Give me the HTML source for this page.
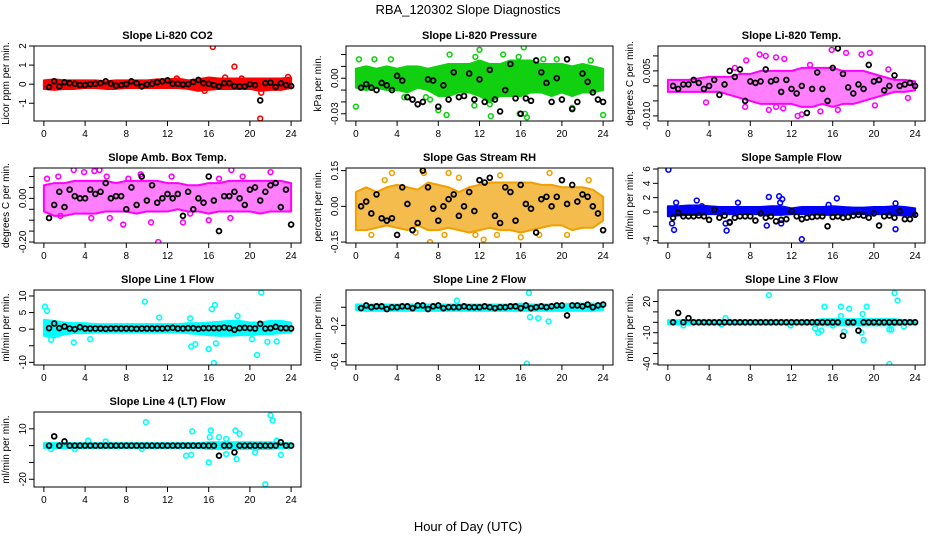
<!DOCTYPE html>
<html><head><meta charset="utf-8"><style>
html,body{margin:0;padding:0;background:#fff;}
svg{display:block;font-family:"Liberation Sans",Arial,sans-serif;}
</style></head><body>
<svg id="chart" width="936" height="540" viewBox="0 0 936 540">
<text x="468" y="14" text-anchor="middle" font-size="13">RBA_120302  Slope Diagnostics</text>
<text x="468" y="531" text-anchor="middle" font-size="13">Hour of Day (UTC)</text>
</svg>
<script>
// ---------- data ----------
const xTicks = [0,4,8,12,16,20,24];

const co2Hi = [0.2,0.25,0.2,0.2,0.2,0.2,0.15,0.2,0.2,0.2,0.2,0.25,0.25,0.3,0.2,0.25,0.35,0.3,0.3,0.3,0.3,0.3,0.3,0.3,0.35];
const co2Lo = [-0.25,-0.3,-0.25,-0.25,-0.2,-0.2,-0.25,-0.25,-0.2,-0.2,-0.2,-0.2,-0.2,-0.2,-0.25,-0.35,-0.3,-0.25,-0.25,-0.25,-0.25,-0.35,-0.3,-0.3,-0.2];
const co2OutH = [16.4,18.5,21.0,21.1,12.9,17.6,23.7,15.6,19.2];
const co2OutV = [1.95,0.92,-1.8,-0.45,0.3,0.35,0.38,-0.35,0.3];
const co2Black = [-0.15,0.15,-0.12,0.1,0.05,0.02,-0.05,-0.05,0,0.02,0.05,0.15,0.03,-0.08,-0.05,0,0.15,0.05,-0.12,-0.02,0.02,0.1,0.15,0.2,0.02,0.02,-0.02,0,0.12,0.22,0.05,0.02,-0.05,-0.12,0.05,0.05,-0.1,-0.12,-0.12,0,-0.05,-0.85,0.05,0.08,-0.15,0.05,-0.05,-0.1];

const presHi = [0.008,0.01,0.008,0.01,0.008,0.01,0.01,0.008,0.01,0.012,0.012,0.012,0.015,0.012,0.012,0.015,0.015,0.015,0.012,0.012,0.012,0.01,0.012,0.01,0.008];
const presLo = [-0.008,-0.01,-0.008,-0.01,-0.01,-0.012,-0.008,-0.01,-0.015,-0.015,-0.012,-0.012,-0.015,-0.02,-0.015,-0.015,-0.015,-0.012,-0.012,-0.015,-0.012,-0.015,-0.012,-0.012,-0.01];
const presOutH = [0,0.3,1.8,3.4,6.8,8.0,8.8,9.1,11.6,11.5,12.0,13.1,13.0,14.3,15.8,16.3,16.6,16.4,15.9,22.8,24,21.0,7.2,4.7,18.2,19.5];
const presOutV = [-0.024,0.016,0.016,0.016,-0.016,-0.027,-0.031,0.02,0.018,-0.023,0.024,-0.032,-0.022,0.02,0.018,0.026,-0.033,-0.03,-0.03,0.015,-0.031,-0.025,-0.018,-0.016,0.016,0.016];
const presBlack = [-0.008,-0.005,-0.008,-0.01,-0.004,-0.006,-0.01,0.002,-0.002,-0.016,-0.018,-0.022,-0.02,-0.001,-0.002,-0.024,-0.006,-0.018,0.005,-0.016,-0.015,0.004,-0.018,-0.001,-0.02,0.007,-0.018,-0.028,-0.01,0.012,-0.017,-0.03,-0.017,-0.019,0.015,0.005,-0.004,-0.02,0.0,-0.018,0.016,-0.026,-0.02,0.004,-0.003,-0.012,-0.018,-0.02];

const tempHi = [0.002,0.002,0.002,0.0025,0.003,0.003,0.003,0.004,0.004,0.005,0.005,0.005,0.005,0.006,0.006,0.006,0.006,0.005,0.005,0.005,0.004,0.003,0.002,0.002,0.0015];
const tempLo = [-0.002,-0.002,-0.002,-0.002,-0.002,-0.002,-0.003,-0.004,-0.005,-0.006,-0.006,-0.006,-0.006,-0.007,-0.007,-0.006,-0.007,-0.006,-0.006,-0.005,-0.004,-0.003,-0.002,-0.002,-0.0015];
const tempOutH = [7.6,8.9,9.5,10.5,11.3,15.9,17.3,18.8,19.6,13.0,12.6,18.5,14.8,16.5,20.1,7.5,11.2,3.7,23.3,21.4,9.8,10.5,6.5,13.8];
const tempOutV = [0.0085,0.0105,0.01,0.0095,0.009,0.012,0.011,0.0105,0.011,-0.0095,-0.01,-0.013,-0.0085,-0.008,-0.0065,-0.007,-0.0075,-0.0055,-0.004,0.0055,-0.008,-0.007,0.006,0.007];
const tempBlack = [0,-0.001,0.0005,0.0005,0.002,0.001,-0.001,0,0.002,-0.003,0.0005,0.005,0.003,0.0055,-0.005,0.0015,0.001,0.0015,0.0055,0.0015,0.002,-0.002,0.002,-0.001,-0.0025,0,-0.009,-0.001,0.0045,-0.001,-0.005,0.006,0.0125,0.004,-0.0005,-0.0025,0.0005,-0.001,0.007,0.0015,0.002,-0.0015,0,0.0035,0,0.0005,0.001,0.0];

const ambHi = [0.06,0.07,0.07,0.08,0.08,0.08,0.08,0.07,0.08,0.08,0.08,0.08,0.07,0.07,0.06,0.06,0.07,0.07,0.08,0.08,0.08,0.08,0.08,0.08,0.07];
const ambLo = [-0.06,-0.08,-0.08,-0.07,-0.07,-0.07,-0.06,-0.06,-0.06,-0.07,-0.06,-0.06,-0.06,-0.05,-0.06,-0.06,-0.07,-0.06,-0.06,-0.06,-0.06,-0.07,-0.06,-0.06,-0.06];
const ambOutH = [0.3,1.4,2.9,3.9,4.9,5.4,6.1,7.7,11.1,13.5,18.2,19.3,22.0,4.6,6.4,9.4,10.4,17.0,16.0,18.1,1.6,14.2,8.2,12.4];
const ambOutV = [0.09,0.1,0.13,0.12,0.125,0.13,0.1,-0.12,-0.2,-0.11,0.13,0.1,0.12,-0.09,-0.09,0.11,-0.11,0.09,-0.1,-0.09,-0.08,-0.07,0.09,0.1];
const ambBlack = [-0.09,-0.03,0.03,-0.04,0.04,0.01,0.0,0.0,0.04,0.02,0.03,0.07,0.0,0.01,0.01,-0.05,0.05,-0.03,0.1,-0.01,0.06,-0.02,0.0,0.02,0.0,0.02,-0.08,0.03,-0.05,0.0,-0.02,0.1,-0.01,-0.15,0.01,0.01,0.03,0.0,-0.03,0.04,0.05,-0.01,0.03,0.06,0.07,-0.04,0.04,-0.12];

const rhHi = [0.06,0.08,0.06,0.08,0.09,0.08,0.07,0.1,0.09,0.08,0.06,0.08,0.09,0.1,0.1,0.1,0.1,0.1,0.09,0.09,0.08,0.08,0.08,0.07,0.04];
const rhLo = [-0.1,-0.1,-0.09,-0.08,-0.09,-0.1,-0.08,-0.1,-0.1,-0.09,-0.1,-0.11,-0.1,-0.09,-0.1,-0.1,-0.11,-0.1,-0.09,-0.08,-0.08,-0.1,-0.09,-0.09,-0.06];
const rhOutH = [7.2,6.6,9.0,18.8,3.5,11.6,12.4,13.7,17.8,1.5,5.8,2.8,10.0,14.0,20.5,22.6,8.6,16.0];
const rhOutV = [-0.15,0.14,0.14,0.14,0.14,-0.12,-0.14,-0.12,-0.12,-0.12,-0.11,0.11,0.12,0.13,-0.12,0.11,-0.12,-0.13];
const rhBlack = [0.0,0.02,-0.03,0.05,-0.05,-0.06,-0.05,-0.12,0.08,0.01,-0.1,-0.07,0.15,0.08,-0.01,-0.06,0.0,0.03,0.05,-0.04,0.0,0.06,-0.02,0.11,0.1,0.12,-0.04,-0.07,0.08,0.06,-0.06,0.09,0.01,-0.01,-0.11,0.03,0.04,0.0,0.04,0.11,0.01,0.09,0.02,0.05,0.04,0.0,-0.03,-0.1];

const sampHi = [0.8,0.8,0.9,0.9,0.8,0.7,0.7,0.7,0.7,0.7,0.8,0.8,0.5,0.7,0.7,0.7,0.8,0.7,0.6,0.6,0.7,0.7,0.8,0.7,0.5];
const sampLo = [-0.6,-0.5,-0.4,-0.4,-0.3,-0.3,-0.3,-0.3,-0.3,-0.3,-0.4,-0.4,-0.3,-0.3,-0.3,-0.4,-0.4,-0.3,-0.3,-0.3,-0.3,-0.3,-0.4,-0.5,-0.5];
const sampOutH = [0.05,0.4,0.6,0.8,2.8,5.7,6.8,9.8,10.8,11.1,10.9,9.6,11.0,13.0,16.4,15.6,22.1,22.1,5.6,6.0,3.3];
const sampOutV = [5.9,-1.6,-2.5,1.3,1.6,-2.6,1.3,2.1,2.2,1.8,1.3,-1.9,-1.6,-3.8,1.9,1.0,-2.4,1.2,-1.6,-1.5,0.8];
const sampBlack = [-0.8,-0.1,-0.6,-0.6,-0.6,-0.5,-0.6,-1.1,0.3,-0.8,-0.5,-1.4,-0.8,-0.6,-0.6,-0.6,-1.2,-0.2,-0.8,-0.6,-1.3,-1.1,-1.0,0.1,-0.6,-1.0,-0.8,-0.7,-0.6,-0.6,-2.0,-0.7,-0.6,-0.8,-0.7,-0.5,-0.4,-0.5,-0.8,-0.2,-1.9,-0.6,-0.5,-0.8,0.1,-1.0,-1.0,-0.4];

const line1Hi = [2.8,2.5,2,1.8,1.8,1.5,1.5,1.5,1.5,1.5,1.5,1.5,1.5,1.5,1.8,1.8,2,2.2,2.5,2.5,2,2,2.5,2.5,2];
const line1Lo = [-2,-2.5,-1.5,-1.2,-1.2,-1,-1,-1,-1,-1,-1,-1,-1,-1,-1.2,-1.5,-1.8,-2,-2,-1.8,-1.8,-1.5,-1.5,-1.2,-1];
const line1OutH = [0.1,0.3,9.8,11.2,21.1,16.6,16.3,14.2,18.8,2.9,14.3,14.7,16.0,16.5,16.7,20.7,21.7,22.6,20.2,0.7,4.5];
const line1OutV = [6.8,5.5,8.3,3.5,11,7.3,6,3.3,4,-4,-5.2,-4.5,-6,-10.2,-4.3,-7.8,-3.8,-3.7,-3,-3.2,-3];
const line1Black = [0.3,1.7,0.3,0.8,0.2,0,0.6,0.2,0.2,0.2,0.2,0.1,0.2,0.2,0.2,0.2,0.2,0.1,0.2,0.2,0.2,0.2,0.2,0.3,0.4,0.2,0.2,0.3,0.3,0.1,0.3,0.3,0.3,0.3,0.5,0.3,-0.2,0.3,0.4,0.3,0.2,1.6,0.2,0.3,0.7,0.3,0.3,0.2];

const line2Hi = [0.03,0.03,0.03,0.03,0.03,0.03,0.03,0.03,0.03,0.03,0.03,0.03,0.03,0.03,0.03,0.03,0.04,0.03,0.03,0.03,0.03,0.04,0.04,0.04,0.04];
const line2Lo = [-0.03,-0.04,-0.04,-0.04,-0.04,-0.04,-0.04,-0.04,-0.04,-0.04,-0.04,-0.04,-0.04,-0.04,-0.04,-0.04,-0.04,-0.04,-0.04,-0.04,-0.04,-0.04,-0.04,-0.04,-0.03];
const line2OutH = [9.8,16.8,16.6,16.9,17.7,18.7];
const line2OutV = [0.073,0.157,-0.62,-0.11,-0.12,-0.157];
const line2Black = [-0.01,0.02,0.0,0.01,0.01,-0.02,0.0,0.0,0.01,0.01,-0.01,0.02,0.02,-0.02,0.01,0.02,-0.01,0.0,0.0,0.0,0.01,0.0,0.0,0.0,0.01,0.0,-0.01,0.0,0.0,0.01,0.01,-0.01,0.02,-0.01,0.0,0.01,0.0,0.01,0.02,0.02,-0.09,0.02,0.02,0.01,0.03,0.0,0.02,0.03];

const line3Hi = [2,2,2,2,2,2,2,2,2,2,2,2,2,2,2,3,3,3,3,3,3,3,3,2,2];
const line3Lo = [-2,-2,-2,-2,-2,-2,-2,-2,-2,-2,-2,-2,-2,-2,-2,-3,-3,-3,-3,-3,-3,-3,-3,-2,-2];
const line3OutH = [9.8,15.2,16.8,17.6,19.3,22.0,22.3,18.9,16.8,14.3,14.9,14.6,17.1,18.8,19.0,21.5,21.5,21.7,22.9,11.9,1.5,5.2,16.0,5.6];
const line3OutV = [26,15,15,13,15,28,21,8,6,-6,-8,-10,-9,-10,-17,-40,-7,-7,-4,-3,-3,-2,-3,4];
const line3Black = [0,9,0,4,0,0,0,0,0,0,0,0,0,0,0,0,0,0,0,0,0,0,0,0,0,0,0,0,0,0,0,0,0,-13,0,0,-8,0,0,0,0,0,0,0,0,0,0,0];

const line4Hi = [1.5,1.5,1.5,1.5,1.5,1.5,1.5,1.5,1.5,1.5,1.5,1.5,1.5,1.5,1.5,1.5,2,2,2,2,2,2,2,1.5,1.5];
const line4Lo = [-1.5,-1.5,-1.5,-1.5,-1.5,-1.5,-1.5,-1.5,-1.5,-1.5,-1.5,-1.5,-1.5,-1.5,-1.5,-1.5,-2,-2,-2,-2,-2,-2,-2,-1.5,-1.5];
const line4OutH = [9.9,14.4,16.2,16.1,17,17.7,18.6,19.0,22.0,22.2,22.6,13.8,14.3,16.0,17.7,18.7,21.5,23.0,20.5,9.5,4.3,6.0,0.7,3.0];
const line4OutV = [14,8.5,9,5,5,4,9,7,18,15,3,-6,-5.5,-10,-5,-8,-23,-5.5,-4,-2,3,2.5,-2,-2];
const line4Black = [0,5.5,0,2.5,0,0,0,0,0,0,0,0,0,0,0,0,0,0,0,0,0,0,0,0,0,0,0,0,0,0,0,0,0,-6,0,0,-4,0,0,0,0,0,0,0,0,2,0,0];

// ---------- layout ----------
const colLeft = [34, 346, 658];
const rowTop = [46, 168, 290, 412];
const boxW = 267, boxH = 75;
const panels = [
 {id:'co2', title:'Slope Li-820 CO2', ylab:'Licor ppm per min.', color:'#ff0000', op:1, y0:-1.93, y1:2.0, ticks:[-1,0,1,2], labels:['-1','0','1','2'], hi:co2Hi, lo:co2Lo, oh:co2OutH, ov:co2OutV, blk:co2Black},
 {id:'pressure', title:'Slope Li-820 Pressure', ylab:'kPa per min.', color:'#10d010', op:1, y0:-0.0361, y1:0.0272, ticks:[-0.03,-0.02,-0.01,0,0.01,0.02], labels:['-0.03','','','0.00','',''], hi:presHi, lo:presLo, oh:presOutH, ov:presOutV, blk:presBlack},
 {id:'li820-temp', title:'Slope Li-820 Temp.', ylab:'degrees C per min.', color:'#ff00ff', op:0.5, y0:-0.0117, y1:0.0133, ticks:[-0.01,-0.005,0,0.005,0.01], labels:['-0.010','','','0.005',''], hi:tempHi, lo:tempLo, oh:tempOutH, ov:tempOutV, blk:tempBlack},
 {id:'amb-box-temp', title:'Slope Amb. Box Temp.', ylab:'degrees C per min.', color:'#ff00ff', op:0.5, y0:-0.2045, y1:0.139, ticks:[-0.2,-0.15,-0.1,-0.05,0,0.05,0.1], labels:['-0.20','','','','0.00','',''], hi:ambHi, lo:ambLo, oh:ambOutH, ov:ambOutV, blk:ambBlack},
 {id:'gas-stream-rh', title:'Slope Gas Stream RH', ylab:'percent per min.', color:'#f0a000', op:0.7, y0:-0.154, y1:0.161, ticks:[-0.15,0,0.15], labels:['-0.15','0.00','0.15'], hi:rhHi, lo:rhLo, oh:rhOutH, ov:rhOutV, blk:rhBlack},
 {id:'sample-flow', title:'Slope Sample Flow', ylab:'ml/min per min.', color:'#0000ff', op:1, y0:-4.33, y1:6.14, ticks:[-4,-2,0,2,4,6], labels:['-4','','0','2','4','6'], hi:sampHi, lo:sampLo, oh:sampOutH, ov:sampOutV, blk:sampBlack},
 {id:'line1-flow', title:'Slope Line 1 Flow', ylab:'ml/min per min.', color:'#00ffff', op:1, y0:-10.8, y1:11.8, ticks:[-10,-5,0,5,10], labels:['-10','','0','5','10'], hi:line1Hi, lo:line1Lo, oh:line1OutH, ov:line1OutV, blk:line1Black},
 {id:'line2-flow', title:'Slope Line 2 Flow', ylab:'ml/min per min.', color:'#00ffff', op:1, y0:-0.636, y1:0.19, ticks:[-0.6,-0.4,-0.2,0], labels:['-0.6','','-0.2',''], hi:line2Hi, lo:line2Lo, oh:line2OutH, ov:line2OutV, blk:line2Black},
 {id:'line3-flow', title:'Slope Line 3 Flow', ylab:'ml/min per min.', color:'#00ffff', op:1, y0:-41, y1:31, ticks:[-40,-30,-20,-10,0,10,20], labels:['-40','','','-10','','','20'], hi:line3Hi, lo:line3Lo, oh:line3OutH, ov:line3OutV, blk:line3Black},
 {id:'line4-flow', title:'Slope Line 4 (LT) Flow', ylab:'ml/min per min.', color:'#00ffff', op:1, y0:-24.6, y1:20, ticks:[-20,-10,0,10], labels:['-20','','','10'], hi:line4Hi, lo:line4Lo, oh:line4OutH, ov:line4OutV, blk:line4Black}
];

const NS = 'http://www.w3.org/2000/svg';
const svg = document.getElementById('chart');
function mk(tag, attrs, parent){
  const e = document.createElementNS(NS, tag);
  for (const k in attrs) e.setAttribute(k, attrs[k]);
  parent.appendChild(e);
  return e;
}
const defs = mk('defs', {}, svg);

panels.forEach((p, i) => {
  const L = colLeft[i % 3], T = rowTop[Math.floor(i / 3)];
  const xMin = -0.96, xMax = 24.96;
  const sx = v => L + (v - xMin) / (xMax - xMin) * boxW;
  const sy = v => T + boxH - (v - p.y0) / (p.y1 - p.y0) * boxH;

  const g = mk('g', {}, svg);
  
  

  const cp = mk('clipPath', {id: 'clip' + i}, defs);
  mk('rect', {x: L, y: T, width: boxW, height: boxH}, cp);

  const t = mk('text', {x: L + boxW / 2, y: T - 7, 'text-anchor': 'middle', 'font-size': 11, 'font-weight': 'bold'}, g);
  t.textContent = p.title;
  
  

  const yl = mk('text', {x: 0, y: 0, 'text-anchor': 'middle', 'font-size': 10, transform: 'translate(' + (L - 25) + ',' + (T + boxH / 2) + ') rotate(-90)'}, g);
  yl.textContent = p.ylab;
  
  

  const plot = mk('g', {'clip-path': 'url(#clip' + i + ')'}, g);
  
  

  let pts = [];
  p.hi.forEach((v, h) => pts.push(sx(h) + ',' + sy(v)));
  for (let h = p.lo.length - 1; h >= 0; h--) pts.push(sx(h) + ',' + sy(p.lo[h]));
  const band = mk('polygon', {points: pts.join(' '), fill: p.color, 'fill-opacity': p.op, stroke: p.color, 'stroke-width': 2, 'stroke-linejoin': 'round'}, plot);
  
  

  p.oh.forEach((h, k) => {
    const c = mk('circle', {cx: sx(h), cy: sy(p.ov[k]), r: 2.4, fill: 'none', stroke: p.color, 'stroke-width': 1.6}, plot);
    
    
  });
  p.blk.forEach((v, k) => {
    const c = mk('circle', {cx: sx((k + 1) * 0.5), cy: sy(v), r: 2.4, fill: 'none', stroke: '#000', 'stroke-width': 1.8}, plot);
    
    
  });

  const box = mk('rect', {x: L, y: T, width: boxW, height: boxH, fill: 'none', stroke: '#000', 'stroke-width': 1}, g);
  
  

  const xa = mk('g', {}, g);
  
  
  mk('line', {x1: sx(xTicks[0]), x2: sx(xTicks[xTicks.length - 1]), y1: T + boxH, y2: T + boxH, stroke: '#000'}, xa);
  xTicks.forEach(v => {
    mk('line', {x1: sx(v), x2: sx(v), y1: T + boxH, y2: T + boxH + 5, stroke: '#000'}, xa);
    const tl = mk('text', {x: sx(v), y: T + boxH + 16, 'text-anchor': 'middle', 'font-size': 10}, xa);
    tl.textContent = v;
    
    
  });
  const ya = mk('g', {}, g);
  
  
  mk('line', {x1: L, x2: L, y1: sy(p.ticks[0]), y2: sy(p.ticks[p.ticks.length - 1]), stroke: '#000'}, ya);
  p.ticks.forEach((v, k) => {
    mk('line', {x1: L - 5, x2: L, y1: sy(v), y2: sy(v), stroke: '#000'}, ya);
    if (p.labels[k]) {
      const tl = mk('text', {x: 0, y: 0, 'text-anchor': 'middle', 'font-size': 10, transform: 'translate(' + (L - 8) + ',' + sy(v) + ') rotate(-90)'}, ya);
      tl.textContent = p.labels[k];
      
      
    }
  });
});
</script>
</body></html>
